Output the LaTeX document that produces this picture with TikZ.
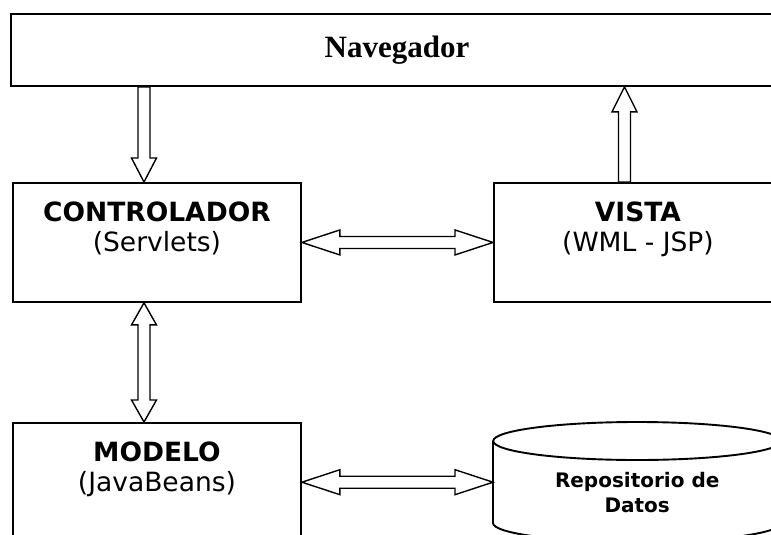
\documentclass[tikz,border=0pt]{standalone}
\usepackage{fontspec}
\newfontfamily\verd{DejaVu Sans}
\newfontfamily\tms{Liberation Serif}
\usetikzlibrary{calc}
\tikzset{
  boxline/.style={draw=black, line width=1.9pt, rectangle, inner sep=0pt},
  cylline/.style={draw=black, line width=1.9pt},
  blk/.style={draw=black, line width=1.4pt, fill=white, line join=miter},
  maintxt/.style={align=center, inner sep=0pt, anchor=base, font=\verd\fontsize{26.5}{30}\selectfont},
  repotxt/.style={align=center, inner sep=0pt, anchor=base, font=\verd\bfseries\fontsize{20}{25}\selectfont},
}
\newcommand\myHDouble[2]{%
  \draw[blk] let \p1=(#1), \p2=(#2), \n1={\x2-\x1-76pt} in
    (\p1) -- ++(38,-12.5) -- ++(0,6.5) -- ++(\n1,0pt) -- ++(0,-6.5) -- (\p2)
    -- ++(-38,12.5) -- ++(0,-6.5) -- ++(-\n1,0pt) -- ++(0,6.5) -- cycle;}
% #1 top tip, #2 bottom tip
\newcommand\myVDouble[2]{%
  \draw[blk] let \p1=(#1), \p2=(#2), \n1={\y2-\y1+44pt}, \n2={\y1-\y2-44pt} in
    (\p1) -- ++(12.5,22) -- ++(-6.5,0) -- ++(0pt,\n1) -- ++(6.5,0) -- (\p2)
    -- ++(-12.5,-22) -- ++(6.5,0) -- ++(0pt,\n2) -- ++(-6.5,0) -- cycle;}
% single arrow pointing down: #1 top (shaft start), #2 tip (below)
\newcommand\myVDown[2]{%
  \draw[blk] let \p1=(#1), \p2=(#2), \n1={\y2-\y1+24pt}, \n2={\y1-\y2-24pt} in
    (\p1) ++(-6,0) -- ++(0pt,\n1) -- ++(-6.5,0) -- (\p2) -- ++(12.5,-24)
    -- ++(-6.5,0) -- ++(0pt,\n2) -- cycle;}
% single arrow pointing up: #1 tip (top), #2 bottom (shaft start)
\newcommand\myVUp[2]{%
  \draw[blk] let \p1=(#1), \p2=(#2), \n1={\y2-\y1+25pt}, \n2={\y1-\y2-25pt} in
    (\p1) -- ++(12.5,25) -- ++(-6.5,0) -- ++(0pt,\n1) -- ++(-12,0)
    -- ++(0pt,\n2) -- ++(-6.5,0) -- cycle;}
\begin{document}
\begin{tikzpicture}[x=1pt,y=-1pt]
\useasboundingbox (0,0) rectangle (771,535);
\clip (0,0) rectangle (771,535);
\fill[white] (0,0) rectangle (771,535);

% boxes
\node[boxline, minimum width=772, minimum height=72, anchor=north west] (nav) at (10,13) {};
\node[boxline, minimum width=288, minimum height=119, anchor=north west] (ctrl) at (12,182) {};
\node[boxline, minimum width=288, minimum height=119, anchor=north west] (vista) at (493,182) {};
\node[boxline, minimum width=288, minimum height=178, anchor=north west] (modelo) at (12,422) {};
\node[minimum width=288, minimum height=120, inner sep=0pt, anchor=north west] (repo) at (493,422) {};

% cylinder
\draw[cylline] (repo.north west) ++(0,19) -- ++(0,82)
  arc[start angle=180, end angle=0, x radius=144, y radius=19] -- ++(0,-82);
\draw[cylline] ($(repo.north)+(0,19)$) ellipse[x radius=144, y radius=19];

% texts
\node[anchor=base, inner sep=0pt, font=\tms\bfseries\fontsize{31}{36}\selectfont] (navt) at ($(nav.north)+(0,45)$) {Navegador};
\node[maintxt] (ctrlt) at ($(ctrl.north)+(0,69)$) {{\bfseries CONTROLADOR}\\(Servlets)};
\node[maintxt] (vistat) at ($(vista.north)+(0,69)$) {{\bfseries VISTA}\\(WML - JSP)};
\node[maintxt] (modelot) at ($(modelo.north)+(0,69)$) {{\bfseries MODELO}\\(JavaBeans)};
\node[repotxt] (repot) at ($(repo.north)+(0,90)$) {Repositorio de\\Datos};

% arrow x positions
\coordinate (xa) at (144,0);
\coordinate (xb) at (624.5,0);

% connectors
\myVDown{nav.south -| xa}{ctrl.north -| xa}
\myVUp{nav.south -| xb}{vista.north -| xb}
\myHDouble{ctrl.east}{vista.west}
\myVDouble{ctrl.south -| xa}{modelo.north -| xa}
\myHDouble{modelo.east |- repo.west}{repo.west}
\end{tikzpicture}
\end{document}
